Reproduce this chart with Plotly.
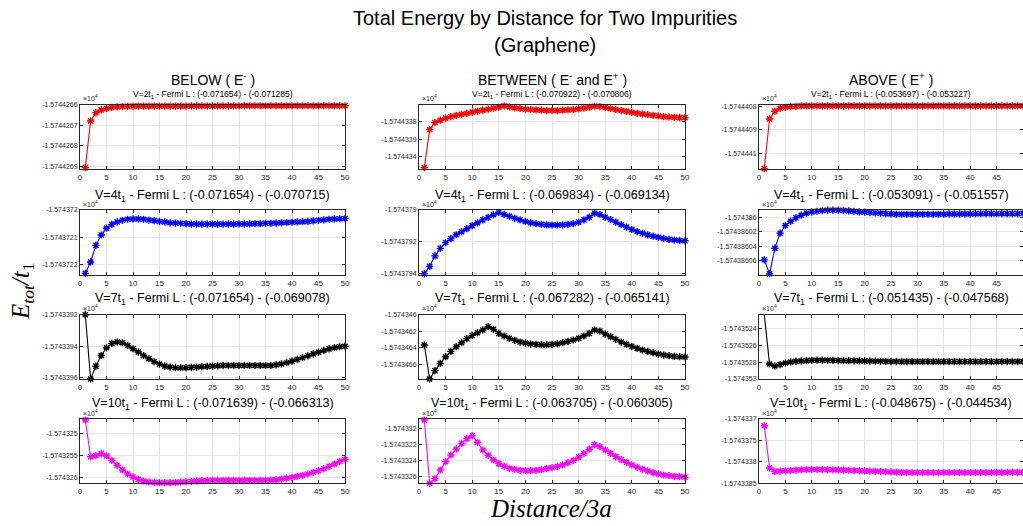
import plotly.graph_objects as go

# ---------------- data (energies in units of 1e4 * t1, as on the tick labels) ----------------
distance = list(range(1, 51))

below_v2 = [
    -1.574426905, -1.574426680, -1.574426640, -1.574426626, -1.574426619, -1.574426614, -1.574426611, -1.574426610, -1.574426609, -1.574426608,
    -1.574426608, -1.574426608, -1.574426608, -1.574426608, -1.574426608, -1.574426608, -1.574426608, -1.574426608, -1.574426608, -1.574426608,
    -1.574426607, -1.574426607, -1.574426607, -1.574426607, -1.574426607, -1.574426607, -1.574426607, -1.574426607, -1.574426607, -1.574426607,
    -1.574426606, -1.574426606, -1.574426606, -1.574426606, -1.574426606, -1.574426606, -1.574426606, -1.574426606, -1.574426606, -1.574426606,
    -1.574426606, -1.574426606, -1.574426606, -1.574426606, -1.574426606, -1.574426606, -1.574426606, -1.574426606, -1.574426606, -1.574426606]
between_v2 = [
    -1.574434065, -1.574433845, -1.574433804, -1.574433791, -1.574433779, -1.574433770, -1.574433763, -1.574433757, -1.574433751, -1.574433744,
    -1.574433738, -1.574433733, -1.574433727, -1.574433721, -1.574433716, -1.574433708, -1.574433714, -1.574433720, -1.574433723, -1.574433727,
    -1.574433729, -1.574433731, -1.574433733, -1.574433735, -1.574433735, -1.574433735, -1.574433733, -1.574433731, -1.574433729, -1.574433725,
    -1.574433721, -1.574433716, -1.574433710, -1.574433712, -1.574433718, -1.574433723, -1.574433729, -1.574433735, -1.574433740, -1.574433746,
    -1.574433751, -1.574433755, -1.574433759, -1.574433763, -1.574433766, -1.574433770, -1.574433772, -1.574433774, -1.574433776, -1.574433776]
above_v2 = [
    -1.574441066, -1.574440853, -1.574440820, -1.574440807, -1.574440803, -1.574440800, -1.574440799, -1.574440797, -1.574440797, -1.574440797,
    -1.574440797, -1.574440797, -1.574440797, -1.574440797, -1.574440797, -1.574440797, -1.574440797, -1.574440797, -1.574440797, -1.574440797,
    -1.574440797, -1.574440797, -1.574440797, -1.574440797, -1.574440797, -1.574440797, -1.574440797, -1.574440797, -1.574440797, -1.574440797,
    -1.574440797, -1.574440797, -1.574440797, -1.574440797, -1.574440797, -1.574440797, -1.574440797, -1.574440797, -1.574440797, -1.574440797,
    -1.574440797, -1.574440797, -1.574440797, -1.574440797, -1.574440797, -1.574440797, -1.574440797, -1.574440797, -1.574440797, -1.574440797]

below_v4 = [
    -1.574372233, -1.574372191, -1.574372130, -1.574372092, -1.574372067, -1.574372053, -1.574372044, -1.574372038, -1.574372034, -1.574372033,
    -1.574372033, -1.574372034, -1.574372037, -1.574372039, -1.574372042, -1.574372044, -1.574372047, -1.574372048, -1.574372049, -1.574372050,
    -1.574372052, -1.574372052, -1.574372052, -1.574372052, -1.574372052, -1.574372052, -1.574372052, -1.574372052, -1.574372052, -1.574372051,
    -1.574372051, -1.574372051, -1.574372050, -1.574372050, -1.574372049, -1.574372049, -1.574372048, -1.574372047, -1.574372046, -1.574372045,
    -1.574372044, -1.574372043, -1.574372042, -1.574372040, -1.574372038, -1.574372036, -1.574372034, -1.574372033, -1.574372032, -1.574372031]
between_v4 = [
    -1.574379400, -1.574379353, -1.574379287, -1.574379240, -1.574379204, -1.574379179, -1.574379155, -1.574379136, -1.574379117, -1.574379098,
    -1.574379080, -1.574379062, -1.574379046, -1.574379030, -1.574379015, -1.574379028, -1.574379040, -1.574379052, -1.574379062, -1.574379072,
    -1.574379080, -1.574379086, -1.574379090, -1.574379093, -1.574379094, -1.574379094, -1.574379093, -1.574379090, -1.574379085, -1.574379076,
    -1.574379062, -1.574379045, -1.574379020, -1.574379028, -1.574379045, -1.574379060, -1.574379076, -1.574379092, -1.574379107, -1.574379122,
    -1.574379135, -1.574379146, -1.574379156, -1.574379164, -1.574379171, -1.574379178, -1.574379184, -1.574379188, -1.574379191, -1.574379193]
above_v4 = [
    -1.5743860590, -1.5743860783, -1.5743860429, -1.5743860221, -1.5743860115, -1.5743860055, -1.5743860009, -1.5743859972, -1.5743859945, -1.5743859926,
    -1.5743859917, -1.5743859908, -1.5743859903, -1.5743859903, -1.5743859903, -1.5743859908, -1.5743859912, -1.5743859917, -1.5743859926, -1.5743859930,
    -1.5743859935, -1.5743859940, -1.5743859945, -1.5743859950, -1.5743859954, -1.5743859959, -1.5743859959, -1.5743859959, -1.5743859959, -1.5743859959,
    -1.5743859959, -1.5743859959, -1.5743859959, -1.5743859959, -1.5743859959, -1.5743859954, -1.5743859954, -1.5743859954, -1.5743859954, -1.5743859954,
    -1.5743859950, -1.5743859950, -1.5743859950, -1.5743859950, -1.5743859950, -1.5743859950, -1.5743859950, -1.5743859950, -1.5743859950, -1.5743859945]

below_v7 = [
    -1.574339200, -1.574339610, -1.574339528, -1.574339460, -1.574339411, -1.574339383, -1.574339374, -1.574339379, -1.574339396, -1.574339417,
    -1.574339438, -1.574339460, -1.574339481, -1.574339500, -1.574339515, -1.574339528, -1.574339534, -1.574339538, -1.574339538, -1.574339538,
    -1.574339536, -1.574339534, -1.574339532, -1.574339530, -1.574339528, -1.574339526, -1.574339524, -1.574339524, -1.574339524, -1.574339524,
    -1.574339524, -1.574339524, -1.574339524, -1.574339524, -1.574339524, -1.574339524, -1.574339520, -1.574339514, -1.574339506, -1.574339496,
    -1.574339485, -1.574339474, -1.574339462, -1.574339450, -1.574339439, -1.574339428, -1.574339418, -1.574339410, -1.574339404, -1.574339401]
between_v7 = [
    -1.574346367, -1.574346778, -1.574346677, -1.574346589, -1.574346508, -1.574346444, -1.574346387, -1.574346339, -1.574346290, -1.574346250,
    -1.574346218, -1.574346185, -1.574346145, -1.574346177, -1.574346226, -1.574346258, -1.574346286, -1.574346310, -1.574346331, -1.574346343,
    -1.574346355, -1.574346359, -1.574346363, -1.574346363, -1.574346359, -1.574346351, -1.574346339, -1.574346323, -1.574346306, -1.574346286,
    -1.574346258, -1.574346226, -1.574346185, -1.574346198, -1.574346234, -1.574346266, -1.574346298, -1.574346331, -1.574346359, -1.574346383,
    -1.574346407, -1.574346427, -1.574346444, -1.574346460, -1.574346476, -1.574346488, -1.574346496, -1.574346504, -1.574346508, -1.574346512]
above_v7 = [
    -1.574352233, -1.574352821, -1.574352845, -1.574352829, -1.574352809, -1.574352797, -1.574352789, -1.574352785, -1.574352781, -1.574352777,
    -1.574352776, -1.574352776, -1.574352777, -1.574352778, -1.574352780, -1.574352781, -1.574352782, -1.574352783, -1.574352784, -1.574352785,
    -1.574352786, -1.574352788, -1.574352789, -1.574352790, -1.574352791, -1.574352792, -1.574352793, -1.574352793, -1.574352793, -1.574352793,
    -1.574352793, -1.574352793, -1.574352793, -1.574352793, -1.574352793, -1.574352793, -1.574352793, -1.574352793, -1.574352793, -1.574352793,
    -1.574352793, -1.574352793, -1.574352793, -1.574352793, -1.574352793, -1.574352792, -1.574352792, -1.574352792, -1.574352792, -1.574352792]

below_v10 = [
    -1.574324687, -1.574325527, -1.574325504, -1.574325458, -1.574325511, -1.574325611, -1.574325725, -1.574325832, -1.574325924, -1.574325992,
    -1.574326046, -1.574326084, -1.574326107, -1.574326115, -1.574326122, -1.574326122, -1.574326122, -1.574326115, -1.574326107, -1.574326100,
    -1.574326092, -1.574326084, -1.574326076, -1.574326072, -1.574326068, -1.574326068, -1.574326068, -1.574326068, -1.574326068, -1.574326068,
    -1.574326068, -1.574326068, -1.574326068, -1.574326068, -1.574326068, -1.574326065, -1.574326055, -1.574326040, -1.574326020, -1.574326000,
    -1.574325977, -1.574325954, -1.574325924, -1.574325885, -1.574325847, -1.574325802, -1.574325748, -1.574325695, -1.574325634, -1.574325588]
between_v10 = [
    -1.574331887, -1.574332685, -1.574332626, -1.574332517, -1.574332412, -1.574332328, -1.574332252, -1.574332181, -1.574332122, -1.574332084,
    -1.574332168, -1.574332265, -1.574332332, -1.574332391, -1.574332437, -1.574332471, -1.574332496, -1.574332508, -1.574332521, -1.574332525,
    -1.574332525, -1.574332521, -1.574332513, -1.574332500, -1.574332487, -1.574332471, -1.574332454, -1.574332425, -1.574332395, -1.574332355,
    -1.574332310, -1.574332255, -1.574332197, -1.574332223, -1.574332265, -1.574332307, -1.574332349, -1.574332387, -1.574332420, -1.574332454,
    -1.574332483, -1.574332508, -1.574332529, -1.574332550, -1.574332567, -1.574332580, -1.574332588, -1.574332597, -1.574332601, -1.574332609]
above_v10 = [
    -1.574337158, -1.574338144, -1.574338223, -1.574338215, -1.574338208, -1.574338200, -1.574338192, -1.574338185, -1.574338180, -1.574338178,
    -1.574338178, -1.574338180, -1.574338182, -1.574338185, -1.574338188, -1.574338192, -1.574338196, -1.574338200, -1.574338205, -1.574338210,
    -1.574338215, -1.574338220, -1.574338225, -1.574338230, -1.574338235, -1.574338240, -1.574338245, -1.574338250, -1.574338250, -1.574338250,
    -1.574338250, -1.574338250, -1.574338250, -1.574338250, -1.574338250, -1.574338248, -1.574338248, -1.574338248, -1.574338248, -1.574338248,
    -1.574338248, -1.574338248, -1.574338248, -1.574338248, -1.574338245, -1.574338245, -1.574338245, -1.574338245, -1.574338245, -1.574338245]

# tick labels as printed on each panel's y axis
yticks = [
    ["-1.5744266", "-1.5744267", "-1.5744268", "-1.5744269"],
    ["-1.5744338", "-1.5744339", "-1.574434"],
    ["-1.5744408", "-1.5744409", "-1.574441"],
    ["-1.574372", "-1.5743721", "-1.5743722"],
    ["-1.574379", "-1.5743792", "-1.5743794"],
    ["-1.574386", "-1.57438602", "-1.57438604", "-1.57438606"],
    ["-1.5743392", "-1.5743394", "-1.5743396"],
    ["-1.574346", "-1.5743462", "-1.5743464", "-1.5743466"],
    ["-1.5743524", "-1.5743526", "-1.5743528", "-1.574353"],
    ["-1.574325", "-1.5743255", "-1.574326"],
    ["-1.574332", "-1.5743322", "-1.5743324", "-1.5743326"],
    ["-1.574337", "-1.5743375", "-1.574338", "-1.5743385"],
]
# axis limits of each panel
yranges = [
    [-1.574426913, -1.5744266], [-1.574434075, -1.5744337], [-1.574441069, -1.574440791],
    [-1.574372239, -1.574372], [-1.574379407, -1.574379], [-1.57438608, -1.57438599],
    [-1.57433961, -1.5743392], [-1.574346778, -1.574346], [-1.574353, -1.5743522333],
    [-1.574326137, -1.574324664], [-1.574332685, -1.574331874], [-1.5743385, -1.574337],
]

series = [below_v2, between_v2, above_v2,
          below_v4, between_v4, above_v4,
          below_v7, between_v7, above_v7,
          below_v10, between_v10, above_v10]

col_titles = ["BELOW ( E<sup>-</sup> )", "BETWEEN ( E<sup>-</sup> and E<sup>+</sup> )", "ABOVE ( E<sup>+</sup> )"]
v_labels = ["2", "4", "7", "10"]
fermi = [
    ["(-0.071654) - (-0.071285)", "(-0.070922) - (-0.070806)", "(-0.053697) - (-0.053227)"],
    ["(-0.071654) - (-0.070715)", "(-0.069834) - (-0.069134)", "(-0.053091) - (-0.051557)"],
    ["(-0.071654) - (-0.069078)", "(-0.067282) - (-0.065141)", "(-0.051435) - (-0.047568)"],
    ["(-0.071639) - (-0.066313)", "(-0.063705) - (-0.060305)", "(-0.048675) - (-0.044534)"],
]
row_colors = ["#ff0000", "#0000ff", "#000000", "#ff00ff"]

# ---------------- layout geometry ----------------
W, H = 1023, 526
col_px = [(80, 345), (419, 685), (759, 1023)]
row_px = [(104.5, 169.3), (210, 275), (314.7, 379), (419, 483.3)]
sub_y = [94.5, 196, 299, 404]


def px(x):
    return x / W


def py(y):
    return 1 - y / H


FONT = "Liberation Sans, Arial, Helvetica, sans-serif"
AX = "#262626"

fig = go.Figure()
layout = dict(width=W, height=H, margin=dict(l=0, r=0, t=0, b=0, pad=0), autosize=False,
              template="none",
              paper_bgcolor="white", plot_bgcolor="white", showlegend=False,
              font=dict(family=FONT, color=AX))
annotations = []

for i in range(12):
    r, c = divmod(i, 3)
    n = "" if i == 0 else str(i + 1)
    fig.add_trace(go.Scatter(
        x=distance, y=series[i], mode="lines+markers", xaxis="x" + n, yaxis="y" + n,
        line=dict(color=row_colors[r], width=1.1),
        marker=dict(symbol="asterisk-open", size=6, line=dict(color=row_colors[r], width=1.4)),
        cliponaxis=False, hoverinfo="x+y"))
    (x0, x1), (y0, y1) = col_px[c], row_px[r]
    common = dict(showline=True, linecolor=AX, linewidth=1, mirror="ticks", ticks="inside",
                  ticklen=3, tickcolor=AX, showgrid=True, gridcolor="#e4e4e4", gridwidth=1,
                  zeroline=False, automargin=False, tickfont=dict(size=8, color=AX, family=FONT))
    layout["xaxis" + n] = dict(domain=[px(x0), px(x1)], anchor="y" + n, range=[0, 50],
                               tickmode="linear", tick0=0, dtick=5, **common)
    yc = dict(common)
    yc["tickfont"] = dict(size=7, color=AX, family=FONT)
    layout["yaxis" + n] = dict(domain=[py(y1), py(y0)], anchor="x" + n, range=yranges[i],
                               tickmode="array", tickvals=[float(t) for t in yticks[i]],
                               ticktext=yticks[i], **yc)
    # x10^4 exponent label
    annotations.append(dict(text="×10<sup>4</sup>", x=px(x0 + 1), y=py(y0 - 0.5), xref="paper", yref="paper",
                            xanchor="left", yanchor="bottom", showarrow=False,
                            font=dict(size=7, color=AX, family=FONT)))
    # panel subtitle
    size = 8.5 if r == 0 else 12.5
    annotations.append(dict(text="V=%st<sub>1</sub> - Fermi L : %s" % (v_labels[r], fermi[r][c]),
                            x=px((x0 + x1) / 2), y=py(sub_y[r]), xref="paper", yref="paper",
                            xanchor="center", yanchor="middle", showarrow=False,
                            font=dict(size=size, color="#000000", family=FONT)))

for c in range(3):
    x0, x1 = col_px[c]
    annotations.append(dict(text=col_titles[c], x=px((x0 + x1) / 2), y=py(79), xref="paper", yref="paper",
                            xanchor="center", yanchor="middle", showarrow=False,
                            font=dict(size=14, color="#000000", family=FONT)))

annotations.append(dict(text="Total Energy by Distance for Two Impurities", x=px(545), y=py(18),
                        xref="paper", yref="paper", xanchor="center", yanchor="middle", showarrow=False,
                        font=dict(size=20, color="#000000", family=FONT)))
annotations.append(dict(text="(Graphene)", x=px(545), y=py(45),
                        xref="paper", yref="paper", xanchor="center", yanchor="middle", showarrow=False,
                        font=dict(size=20, color="#000000", family=FONT)))
SERIF = "Liberation Serif, Times New Roman, serif"
annotations.append(dict(text="<i>E</i><sub><i>tot</i></sub><i>/t</i><sub>1</sub>", x=px(22), y=py(292),
                        xref="paper", yref="paper", xanchor="center", yanchor="middle", showarrow=False,
                        textangle=-90, font=dict(size=25, color="#000000", family=SERIF)))
annotations.append(dict(text="<i>Distance/3a</i>", x=px(551), y=py(508),
                        xref="paper", yref="paper", xanchor="center", yanchor="middle", showarrow=False,
                        font=dict(size=25, color="#000000", family=SERIF)))

layout["annotations"] = annotations
fig.update_layout(**layout)
fig.write_html("out.html", config={"displayModeBar": False},
               post_script="document.body.style.margin='0px';document.body.style.padding='0px';"
                           "document.body.style.overflow='hidden';")
